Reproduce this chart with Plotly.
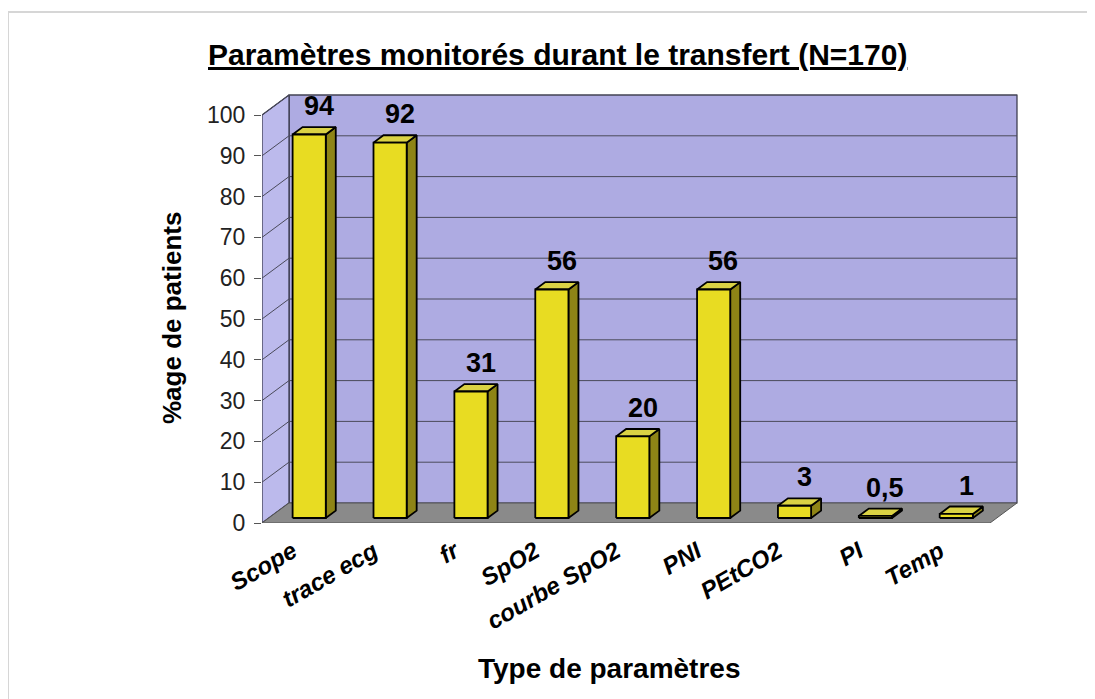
import plotly.graph_objects as go

# ---------------- data ----------------
categories = ["Scope", "trace ecg", "fr", "SpO2", "courbe SpO2", "PNI", "PEtCO2", "PI", "Temp"]
values = [94, 92, 31, 56, 20, 56, 3, 0.5, 1]
y_ticks = [0, 10, 20, 30, 40, 50, 60, 70, 80, 90, 100]
title = "Paramètres monitorés durant le transfert (N=170)"
x_title = "Type de paramètres"
y_title = "%age de patients"

# ---------------- geometry (pseudo-3D) ----------------
OFF = 8                                  # browser body margin
W_PX, H_PX = 1095 - OFF, 699 - OFF
L, R, T, B = 262 - OFF, 1022 - OFF, 90 - OFF, 523 - OFF
PX_X = (990 - 262) / len(categories)    # px per category
PX_Y = 4.08                              # px per % unit
DX, DY = 27 / PX_X, 20 / PX_Y            # full depth in data units
F0, FB, BW = 0.25, 0.37, 0.41            # bar depth start, bar depth, bar width
x0, x1 = -0.5, len(categories) - 0.5
ymax = 100

FONT = "Liberation Sans, Arial, sans-serif"
WALL = "#AEABE2"
SIDE = "#BCBAEC"
FLOOR = "#8A8A8A"
GRID = "#4A4A5A"
FRONT = "#E8DC22"
TOP = "#DAD244"
RIGHT = "#8E8416"

fig = go.Figure()

def poly(xs, ys, fill, lw=1, lc="black"):
    fig.add_trace(go.Scatter(x=xs + [xs[0]], y=ys + [ys[0]], mode="lines", fill="toself",
                             fillcolor=fill, line=dict(color=lc, width=lw),
                             hoverinfo="skip", showlegend=False))

def line(xs, ys, color=GRID, lw=1):
    fig.add_trace(go.Scatter(x=xs, y=ys, mode="lines", line=dict(color=color, width=lw),
                             hoverinfo="skip", showlegend=False))

# back wall
poly([x0 + DX, x1 + DX, x1 + DX, x0 + DX], [DY, DY, ymax + DY, ymax + DY], WALL, 1.2, "#333344")
# left side wall
poly([x0, x0 + DX, x0 + DX, x0], [0, DY, ymax + DY, ymax], SIDE, 1.2, "#333344")
# floor
poly([x0, x1, x1 + DX, x0 + DX], [0, 0, DY, DY], FLOOR, 1, "#555555")

# gridlines
for v in y_ticks[1:]:
    line([x0, x0 + DX, x1 + DX], [v, v + DY, v + DY])

# x tick marks at category boundaries on the front floor edge
for k in range(len(categories) + 1):
    xb = x0 + k
    line([xb, xb], [0, -6 / PX_Y], color="#999999", lw=1)

# bars
ddx, ddy = FB * DX, FB * DY
for i, v in enumerate(values):
    bx0 = i - BW / 2 + F0 * DX
    bx1 = bx0 + BW
    by0 = F0 * DY
    by1 = v + by0
    poly([bx1, bx1 + ddx, bx1 + ddx, bx1], [by0, by0 + ddy, by1 + ddy, by1], RIGHT, 1.8)
    poly([bx0, bx1, bx1 + ddx, bx0 + ddx], [by1, by1, by1 + ddy, by1 + ddy], TOP, 1.8)
    poly([bx0, bx1, bx1, bx0], [by0, by0, by1, by1], FRONT, 1.8)
    lbl = f"{v:g}".replace(".", ",")
    fig.add_annotation(x=(bx0 + bx1) / 2 + ddx / 2 + 0.06, y=by1 + ddy, text=f"<b>{lbl}</b>",
                       showarrow=False, xanchor="center", yanchor="bottom", yshift=4,
                       font=dict(family=FONT, size=27, color="black"))

pw, ph = R - L, B - T
def px_x(p):
    return (p - OFF - L) / pw
def px_y(p):
    return (B - (p - OFF)) / ph

fig.add_annotation(x=px_x(557), y=px_y(55), xref="paper", yref="paper",
                   text=f"<b><u>{title}</u></b>", showarrow=False,
                   xanchor="center", yanchor="middle",
                   font=dict(family=FONT, size=30, color="black"))
fig.add_annotation(x=px_x(609), y=px_y(668), xref="paper", yref="paper",
                   text=f"<b>{x_title}</b>", showarrow=False,
                   xanchor="center", yanchor="middle",
                   font=dict(family=FONT, size=28, color="black"))
fig.add_annotation(x=px_x(172), y=px_y(318), xref="paper", yref="paper",
                   text=f"<b>{y_title}</b>", showarrow=False, textangle=-90,
                   xanchor="center", yanchor="middle",
                   font=dict(family=FONT, size=26, color="black"))

# outer frame lines
fig.add_shape(type="line", xref="paper", yref="paper", x0=px_x(8), x1=px_x(1100),
              y0=px_y(12), y1=px_y(12), line=dict(color="#d6d6d6", width=2))
fig.add_shape(type="line", xref="paper", yref="paper", x0=px_x(8), x1=px_x(8),
              y0=px_y(12), y1=px_y(705), line=dict(color="#d6d6d6", width=2))

fig.update_layout(
    width=W_PX, height=H_PX,
    margin=dict(l=L, r=W_PX - R, t=T, b=H_PX - B),
    paper_bgcolor="white", plot_bgcolor="rgba(0,0,0,0)",
    showlegend=False,
    xaxis=dict(range=[x0, x1 + (1022 - 990) / PX_X], tickmode="array",
               tickvals=[i - 0.12 for i in range(len(categories))], ticktext=categories,
               tickangle=-30, ticks="", showgrid=False, zeroline=False, showline=False,
               ticklabelstandoff=9,
               tickfont=dict(family=FONT, size=24, color="black", weight="bold", style="italic"),
               fixedrange=True),
    yaxis=dict(range=[0, (B - T) / PX_Y], tickmode="array", tickvals=y_ticks,
               ticks="outside", ticklen=7, tickcolor="#555555", showgrid=False,
               zeroline=False, showline=False, ticklabelstandoff=4,
               tickfont=dict(family=FONT, size=23, color="#222222"), fixedrange=True),
)

fig.write_html("out.html")
